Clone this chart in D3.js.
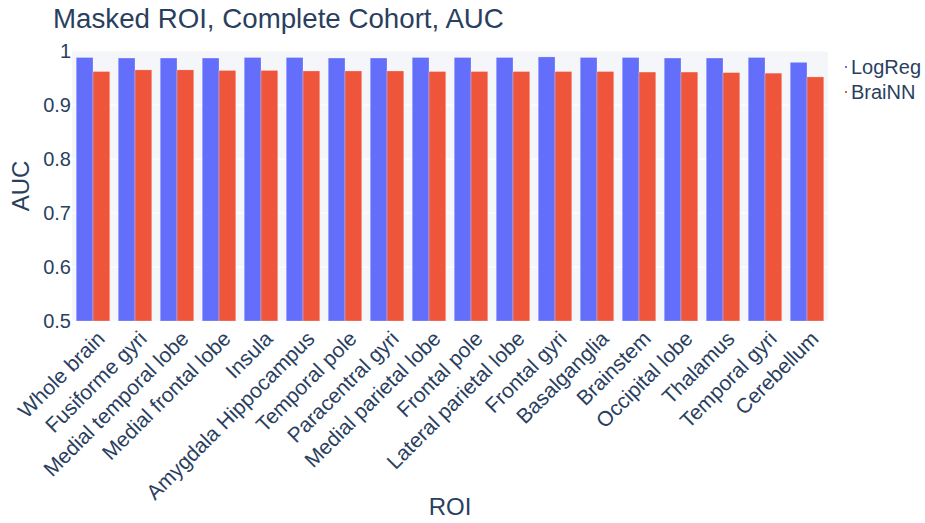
<!DOCTYPE html>
<head>
  <meta charset="utf-8">
  <script src="https://d3js.org/d3.v7.min.js"></script>
  <style>
    body { margin: 0; background: #fff; }
    text { font-family: "Liberation Sans", Arial, sans-serif; fill: #2a3f5f; }
  </style>
</head>
<body>
  <script>
    var width = 925;
    var height = 523;

    // values
    var rois = ["Whole brain", "Fusiforme gyri", "Medial temporal lobe", "Medial frontal lobe",
      "Insula", "Amygdala Hippocampus", "Temporal pole", "Paracentral gyri",
      "Medial parietal lobe", "Frontal pole", "Lateral parietal lobe", "Frontal gyri",
      "Basalganglia", "Brainstem", "Occipital lobe", "Thalamus", "Temporal gyri", "Cerebellum"];
    var logreg = [0.988, 0.987, 0.987, 0.987, 0.988, 0.988, 0.987, 0.987, 0.988,
      0.988, 0.988, 0.989, 0.988, 0.988, 0.987, 0.987, 0.988, 0.979];
    var brainn = [0.962, 0.965, 0.965, 0.964, 0.964, 0.963, 0.963, 0.963, 0.962,
      0.962, 0.962, 0.962, 0.962, 0.961, 0.961, 0.960, 0.959, 0.952];
    var seriesNames = ["LogReg", "BraiNN"];
    var colors = ["#636efa", "#EF553B"];
    var yTicks = [0.5, 0.6, 0.7, 0.8, 0.9, 1];

    var margin = {left: 72, right: 97, top: 51, bottom: 202};
    var plotW = width - margin.left - margin.right;
    var plotH = height - margin.top - margin.bottom;

    var svg = d3.select("body").append("svg")
        .attr("width", width)
        .attr("height", height);

    var x = d3.scaleBand().domain(rois).range([0, plotW]).paddingInner(0.2).paddingOuter(0.1);
    var xs = d3.scaleBand().domain(seriesNames).range([0, x.bandwidth()]);
    var y = d3.scaleLinear().domain([0.5, 1]).range([plotH, 0]);

    var g = svg.append("g").attr("transform", "translate(" + margin.left + "," + margin.top + ")");

    g.append("rect").attr("width", plotW).attr("height", plotH).attr("fill", "#f5f6f9");

    g.selectAll("line.grid").data(yTicks).enter().append("line")
      .attr("class", "grid")
      .attr("x1", 0).attr("x2", plotW)
      .attr("y1", function (d) { return y(d); })
      .attr("y2", function (d) { return y(d); })
      .attr("stroke", "#fff").attr("stroke-width", 1);

    var series = [logreg, brainn];
    series.forEach(function (vals, si) {
      g.selectAll("rect.s" + si).data(vals).enter().append("rect")
        .attr("class", "s" + si)
        .attr("x", function (d, i) { return x(rois[i]) + xs(seriesNames[si]); })
        .attr("y", function (d) { return y(d); })
        .attr("width", xs.bandwidth())
        .attr("height", function (d) { return plotH - y(d); })
        .attr("fill", colors[si])
        .attr("stroke", "rgba(255,255,255,0.5)")
        .attr("stroke-width", 0.5);
    });

    // y axis labels
    var yAxis = d3.axisLeft(y).tickValues(yTicks).tickSize(0).tickPadding(1)
      .tickFormat(function (d) { return d === 1 ? "1" : d3.format(".1f")(d); });
    var ya = g.append("g").call(yAxis);
    ya.select(".domain").remove();
    ya.selectAll("text").style("font-size", "20px").style("fill", "#2a3f5f")
      .style("font-family", "Liberation Sans, Arial, sans-serif");

    // x axis labels, rotated
    var xAxis = d3.axisBottom(x).tickSize(0);
    var xa = g.append("g").attr("transform", "translate(0," + plotH + ")").call(xAxis);
    xa.select(".domain").remove();
    xa.selectAll("text")
      .attr("y", 0).attr("dy", 0)
      .attr("transform", "translate(13,19) rotate(-45)")
      .style("text-anchor", "end")
      .style("font-size", "21px").style("fill", "#2a3f5f")
      .style("font-family", "Liberation Sans, Arial, sans-serif");

    // titles
    svg.append("text").attr("x", 53).attr("y", 28)
      .style("font-size", "27.7px").text("Masked ROI, Complete Cohort, AUC");
    svg.append("text").attr("x", margin.left + plotW / 2).attr("y", 515)
      .attr("text-anchor", "middle").style("font-size", "24px").text("ROI");
    svg.append("text")
      .attr("transform", "translate(29," + (margin.top + plotH / 2) + ") rotate(-90)")
      .attr("text-anchor", "middle").style("font-size", "24px").text("AUC");

    // legend
    var lg = svg.append("g").attr("transform", "translate(846,0)");
    seriesNames.forEach(function (name, i) {
      var yy = 67 + i * 25;
      lg.append("rect").attr("x", -1).attr("y", yy - 1).attr("width", 2).attr("height", 2)
        .attr("fill", colors[i]);
      lg.append("text").attr("x", 5).attr("y", yy + 7)
        .style("font-size", "20px").text(name);
    });
  </script>
</body>
